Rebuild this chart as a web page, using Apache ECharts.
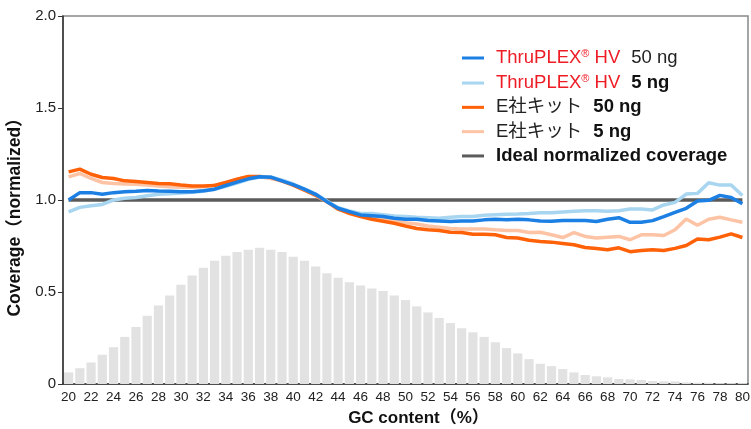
<!DOCTYPE html>
<html>
<head>
  <meta charset="UTF-8">
  <title>GC coverage</title>
  <script src="https://cdn.jsdelivr.net/npm/echarts@6/dist/echarts.min.js"></script>
  <style>
    html, body { margin:0; padding:0; background:#fff; }
    #chart { width:751px; height:429px; }
  </style>
</head>
<body>
<div id="chart"></div>
<script type="text/javascript">
  var gc = [];
  for (var g = 20; g <= 80; g++) gc.push(String(g));

  // GC content distribution (gray bars)
  var gcDist = [
    0.063,0.086,0.117,0.159,0.200,0.256,0.310,0.371,0.427,0.481,
    0.540,0.589,0.632,0.670,0.697,0.717,0.730,0.740,0.730,0.717,
    0.692,0.670,0.638,0.602,0.578,0.553,0.535,0.519,0.505,0.481,
    0.456,0.422,0.389,0.359,0.331,0.303,0.281,0.256,0.227,0.195,
    0.166,0.135,0.110,0.097,0.081,0.063,0.049,0.042,0.036,0.027,
    0.025,0.022,0.016,0.014,0.014,0.009,0.007,0.007,0.005,0.005,0.005
  ];
  var tp50 = [
    1.000,1.040,1.040,1.031,1.040,1.045,1.047,1.052,1.049,1.047,
    1.045,1.045,1.050,1.059,1.079,1.097,1.115,1.126,1.124,1.104,
    1.084,1.059,1.031,0.991,0.955,0.937,0.919,0.915,0.910,0.901,
    0.895,0.895,0.888,0.886,0.883,0.886,0.886,0.892,0.895,0.892,
    0.895,0.892,0.886,0.884,0.888,0.888,0.888,0.883,0.895,0.904,
    0.879,0.879,0.888,0.910,0.933,0.955,0.995,0.998,1.025,1.014,0.980
  ];
  var tp5 = [
    0.935,0.960,0.969,0.976,1.000,1.009,1.014,1.023,1.031,1.034,
    1.038,1.042,1.047,1.058,1.074,1.092,1.112,1.123,1.126,1.108,
    1.087,1.059,1.032,0.995,0.958,0.940,0.927,0.927,0.920,0.913,
    0.910,0.906,0.904,0.901,0.906,0.910,0.910,0.917,0.920,0.922,
    0.924,0.927,0.931,0.931,0.935,0.939,0.942,0.942,0.939,0.942,
    0.951,0.951,0.946,0.973,0.987,1.032,1.036,1.094,1.081,1.081,1.024
  ];
  var e50 = [
    1.153,1.168,1.140,1.122,1.117,1.104,1.100,1.095,1.090,1.088,
    1.081,1.076,1.076,1.079,1.095,1.113,1.128,1.128,1.123,1.104,
    1.081,1.054,1.027,0.991,0.950,0.927,0.910,0.895,0.885,0.874,
    0.859,0.845,0.838,0.834,0.825,0.823,0.814,0.814,0.811,0.796,
    0.793,0.781,0.775,0.771,0.764,0.757,0.742,0.737,0.730,0.740,
    0.719,0.726,0.730,0.726,0.737,0.753,0.788,0.784,0.798,0.816,0.796
  ];
  var e5 = [
    1.126,1.144,1.117,1.095,1.090,1.087,1.085,1.081,1.076,1.072,
    1.069,1.069,1.072,1.081,1.094,1.112,1.126,1.126,1.117,1.103,
    1.081,1.054,1.023,0.991,0.955,0.927,0.913,0.904,0.895,0.886,
    0.877,0.870,0.859,0.852,0.845,0.843,0.843,0.843,0.838,0.834,
    0.834,0.823,0.825,0.811,0.796,0.823,0.802,0.793,0.798,0.802,
    0.784,0.811,0.811,0.807,0.838,0.897,0.863,0.895,0.906,0.892,0.879
  ];
  var ideal = gc.map(function(){ return 1.0; });

  var yTicks = ['0','0.5','1.0','1.5','2.0'];

  var font = "'Liberation Sans', Arial, 'Noto Sans CJK JP', sans-serif";
  var legendText = {
    tp50: '{red0|ThruPLEX}{sup|®}{red| HV}{n|50 ng}',
    tp5:  '{red0|ThruPLEX}{sup|®}{red| HV}{b|5 ng}',
    e50:  '{k|E社キット}{b|50 ng}',
    e5:   '{k|E社キット}{b|5 ng}',
    ideal:'{b2|Ideal normalized coverage}'
  };

  function lineSeries(name, data, color, z){
    return {
      name: name, type: 'line', data: data, z: z,
      symbol: 'none', smooth: false,
      lineStyle: { color: color, width: 3.5 },
      itemStyle: { color: color }
    };
  }

  var chart = echarts.init(document.getElementById('chart'));
  chart.setOption({
    animation: false,
    textStyle: { fontFamily: font },
    grid: { left: 63, right: 3, top: 16, bottom: 45, show: true, borderColor: '#888', borderWidth: 1.5,
            containLabel: false, outerBoundsMode: 'none' },
    legend: {
      orient: 'vertical', left: 457, top: 43,
      itemWidth: 22, itemHeight: 3, itemGap: 5.8,
      icon: 'rect',
      data: ['tp50','tp5','e50','e5','ideal'],
      formatter: function(n){ return legendText[n]; },
      textStyle: {
        fontFamily: font,
        rich: {
          red0: { color: '#ee1c25', fontSize: 18.5, lineHeight: 20, padding: [0,0,0,7], fontFamily: font },
          red: { color: '#ee1c25', fontSize: 18.5, lineHeight: 20, fontFamily: font },
          sup: { color: '#ee1c25', fontSize: 11, lineHeight: 20, verticalAlign: 'top', fontFamily: font },
          n:   { color: '#222', fontSize: 18.5, lineHeight: 20, padding: [0,0,0,11], fontFamily: font },
          b:   { color: '#111', fontSize: 18.5, lineHeight: 20, fontWeight: 'bold', padding: [0,0,0,11], fontFamily: font },
          k:   { color: '#222', fontSize: 18.5, lineHeight: 20, padding: [0,0,0,7], fontFamily: font },
          b2:  { color: '#111', fontSize: 18.5, lineHeight: 20, fontWeight: 'bold', padding: [0,0,0,7], fontFamily: font }
        }
      },
      padding: [5, 5, 5, 5]
    },
    xAxis: {
      type: 'category', data: gc, boundaryGap: true,
      name: 'GC content（%）', nameLocation: 'middle', nameGap: 26,
      nameTextStyle: { fontSize: 17, fontWeight: 'bold', color: '#111', fontFamily: font, padding: [0,0,0,26] },
      axisLine: { lineStyle: { color: '#333', width: 1.5 } },
      axisTick: { show: false },
      axisLabel: { interval: 1, color: '#222', fontSize: 13.5, margin: 7, fontFamily: font },
      splitLine: { show: false }
    },
    yAxis: {
      type: 'value', min: 0, max: 2, interval: 0.5,
      name: 'Coverage（normalized）', nameLocation: 'middle', nameGap: 36,
      nameTextStyle: { fontSize: 17.5, fontWeight: 'bold', color: '#111', fontFamily: font, padding: [0,26,0,0] },
      axisLine: { show: true, lineStyle: { color: '#333', width: 1.5 } },
      axisTick: { show: true, length: 5, lineStyle: { color: '#333' } },
      axisLabel: {
        color: '#222', fontSize: 15, margin: 7, fontFamily: font,
        formatter: function(v){ return yTicks[Math.round(v / 0.5)]; }
      },
      splitLine: { show: false }
    },
    series: [
      { name: 'gc', type: 'bar', data: gcDist, barCategoryGap: '18%', z: 1,
        itemStyle: { color: '#e2e2e2' } },
      lineSeries('ideal', ideal, '#5b5b5b', 2),
      lineSeries('e5', e5, '#fdc3a5', 3),
      lineSeries('e50', e50, '#ff6108', 4),
      lineSeries('tp5', tp5, '#a8d5f0', 5),
      lineSeries('tp50', tp50, '#1b7fe3', 6)
    ]
  });
</script>
</body>
</html>
